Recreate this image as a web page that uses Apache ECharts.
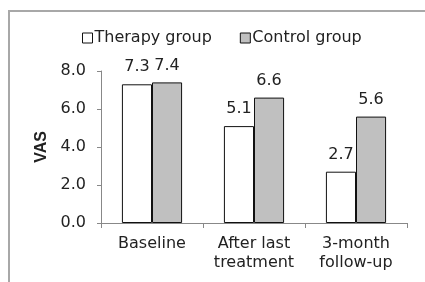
<!DOCTYPE html>
<html>
<head>
<meta charset="utf-8">
<script src="https://cdn.jsdelivr.net/npm/echarts@6/dist/echarts.min.js"></script>
<style>
  html,body{margin:0;padding:0;background:#fff;}
  #chart{width:425px;height:282px;}
</style>
</head>
<body>
<div id="chart"></div>
<script>
var categories = ['Baseline', 'After last\ntreatment', '3-month\nfollow-up'];
var therapy = [7.3, 5.1, 2.7];
var control = [7.4, 6.6, 5.6];
var seriesNames = ['Therapy group', 'Control group'];

var myChart = echarts.init(document.getElementById('chart'));

var font = '"DejaVu Sans", sans-serif';

option = {
    animation: false,
    textStyle: { fontFamily: font },
    graphic: [{
        type: 'rect',
        shape: { x: 9, y: 11, width: 500, height: 400 },
        style: { fill: 'none', stroke: '#a8a8a8', lineWidth: 2 },
        silent: true
    }],
    legend: {
        left: 77,
        top: 25,
        icon: 'rect',
        itemWidth: 10,
        itemHeight: 10,
        itemGap: 28,
        itemStyle: { borderWidth: 1, borderColor: '#111' },
        textStyle: { fontSize: 16, color: '#222', fontFamily: font, padding: [0, 0, 0, -3] },
        data: seriesNames
    },
    grid: { left: 101, right: 18, top: 71, bottom: 59 },
    xAxis: {
        type: 'category',
        data: categories,
        axisLine: { lineStyle: { color: '#888' } },
        axisTick: { show: true, length: 5, lineStyle: { color: '#888' } },
        axisLabel: { interval: 0, hideOverlap: false, fontSize: 16, color: '#222', lineHeight: 19, margin: 11 }
    },
    yAxis: {
        type: 'value',
        min: 0,
        max: 8,
        interval: 2,
        name: 'VAS',
        nameLocation: 'middle',
        nameGap: 51,
        nameRotate: 90,
        nameTextStyle: { fontSize: 16, fontWeight: 'bold', color: '#222', fontFamily: 'Arial, "Liberation Sans", sans-serif' },
        axisLine: { show: true, lineStyle: { color: '#888' } },
        axisTick: { show: true, length: 4, lineStyle: { color: '#888' } },
        splitLine: { show: false },
        axisLabel: {
            fontSize: 16, color: '#222', margin: 15,
            formatter: function (v) { return v.toFixed(1); }
        }
    },
    series: [
        {
            name: seriesNames[0],
            type: 'bar',
            data: therapy,
            barGap: '0%',
            barCategoryGap: '41%',
            itemStyle: { color: '#ffffff', borderColor: '#111', borderWidth: 1 },
            label: { show: true, position: 'top', distance: 9, fontSize: 16, color: '#222',
                formatter: function (p) { return p.value.toFixed(1); } }
        },
        {
            name: seriesNames[1],
            type: 'bar',
            data: control,
            itemStyle: { color: '#c0c0c0', borderColor: '#111', borderWidth: 1 },
            label: { show: true, position: 'top', distance: 9, fontSize: 16, color: '#222',
                formatter: function (p) { return p.value.toFixed(1); } }
        }
    ]
};

myChart.setOption(option);
</script>
</body>
</html>
